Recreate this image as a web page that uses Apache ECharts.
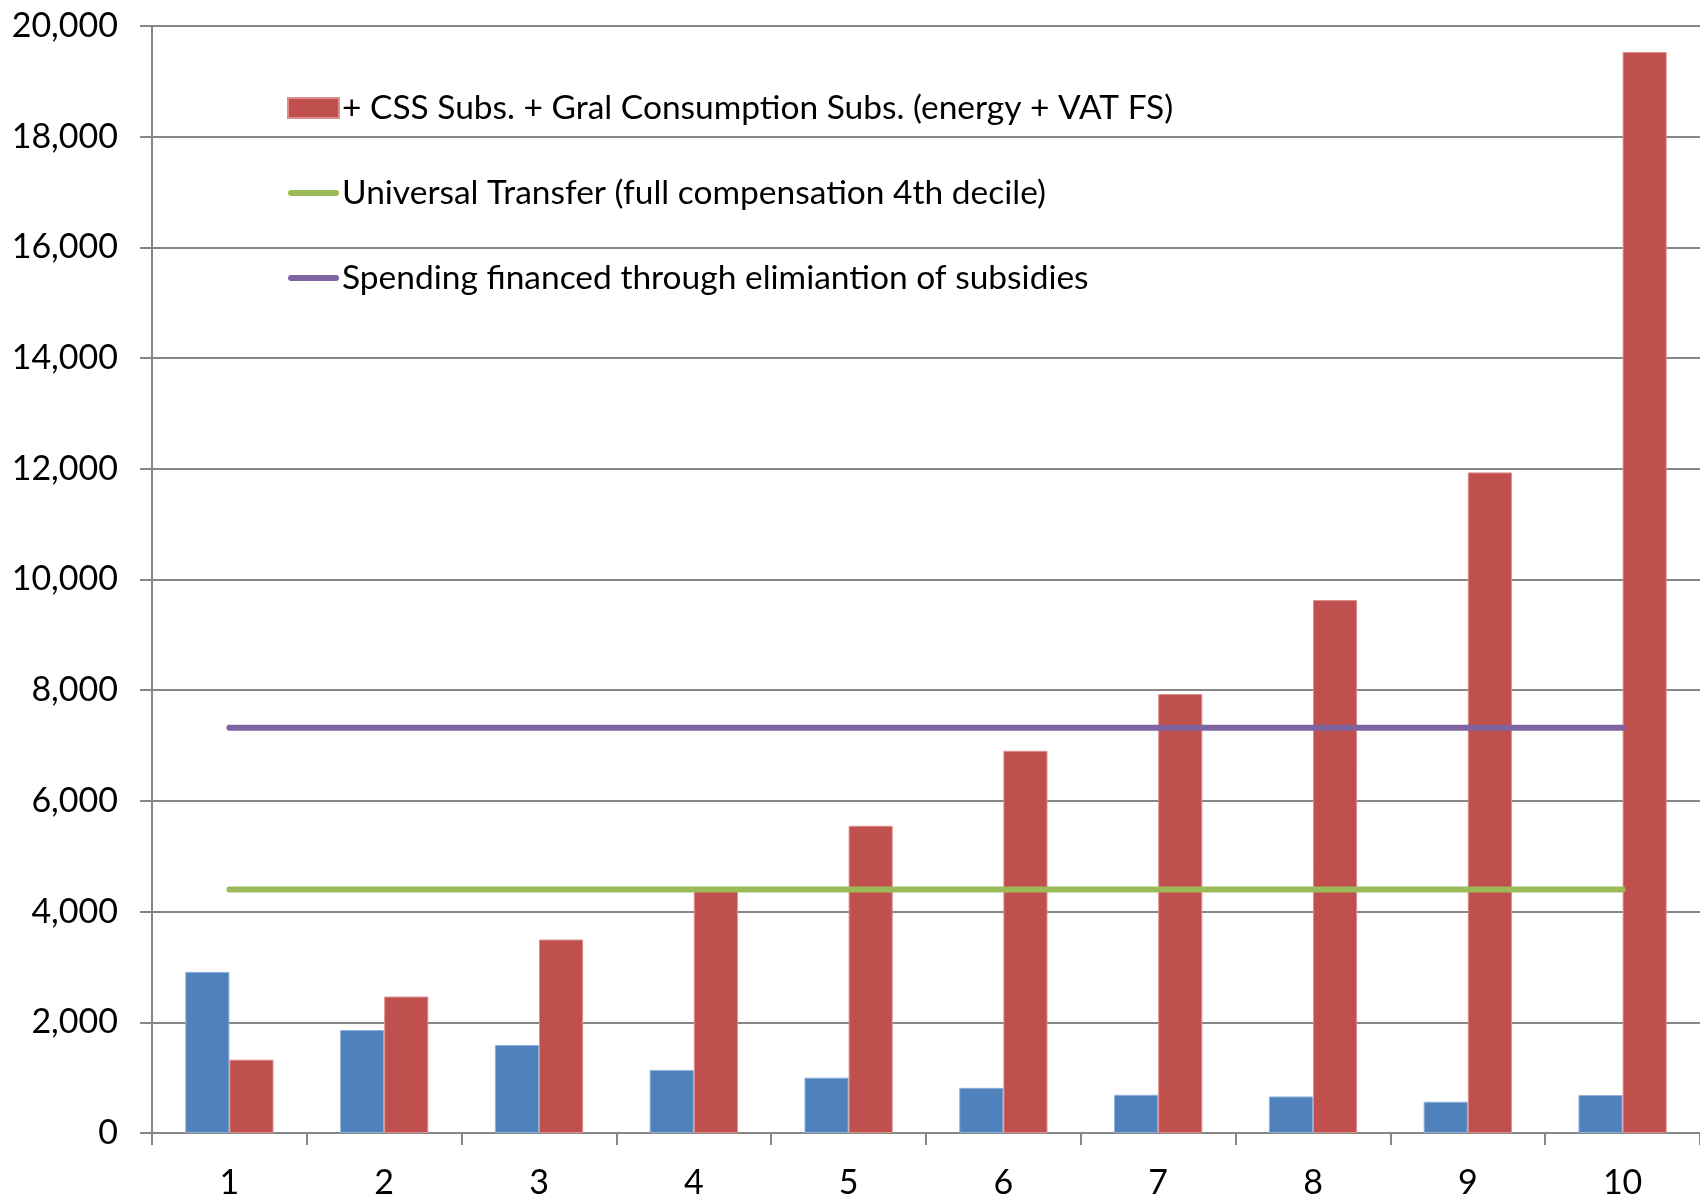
<!DOCTYPE html>
<html>
<head>
<meta charset="utf-8">
<script src="https://cdn.jsdelivr.net/npm/echarts@6/dist/echarts.min.js"></script>
<style>
  html, body { margin: 0; padding: 0; background: #ffffff; }
  #chart { width: 1700px; height: 1200px; }
</style>
</head>
<body>
<div id="chart"></div>
<script>
const categories = ['1', '2', '3', '4', '5', '6', '7', '8', '9', '10'];
const yTicks = [0, 2000, 4000, 6000, 8000, 10000, 12000, 14000, 16000, 18000, 20000];

const baseSubsidies = [2910, 1860, 1590, 1140, 1000, 816, 690, 660, 565, 685];
const cssGralSubsidies = [1325, 2465, 3495, 4390, 5550, 6905, 7930, 9630, 11935, 19530];
const universalTransfer = [4400, 4400, 4400, 4400, 4400, 4400, 4400, 4400, 4400, 4400];
const spendingFinanced = [7320, 7320, 7320, 7320, 7320, 7320, 7320, 7320, 7320, 7320];

const seriesNames = [
  'Base subsidies',
  '+ CSS Subs. + Gral Consumption Subs. (energy + VAT FS)',
  'Universal Transfer (full compensation 4th decile)',
  'Spending financed through elimiantion of subsidies'
];

const FONT = 'Lato, "Open Sans", sans-serif';
const LINE_ICON = 'path://M3,0 L48,0 A3,3 0 0 1 48,6 L3,6 A3,3 0 0 1 3,0 Z';
const chart = echarts.init(document.getElementById('chart'), null, { renderer: 'canvas' });

chart.setOption({
  backgroundColor: '#ffffff',
  animation: false,
  grid: { left: 152, right: 0, top: 26, bottom: 66 },
  legend: {
    orient: 'vertical',
    left: 282,
    top: 85,
    itemWidth: 51,
    itemHeight: 20,
    itemGap: 49,
    symbolKeepAspect: true,
    data: [
      { name: seriesNames[1], icon: 'rect' },
      { name: seriesNames[2], icon: LINE_ICON },
      { name: seriesNames[3], icon: LINE_ICON }
    ],
    textStyle: { fontFamily: FONT, fontSize: 33.5, color: '#000000', lineHeight: 36, padding: [0, 0, 0, -2] }
  },
  xAxis: {
    type: 'category',
    data: categories,
    boundaryGap: true,
    axisLine: { show: true, lineStyle: { color: '#868686', width: 2 } },
    axisTick: { show: true, length: 12, alignWithLabel: false, lineStyle: { color: '#868686', width: 2 } },
    axisLabel: { fontFamily: FONT, fontSize: 34, color: '#000000', margin: 33 },
    splitLine: { show: false }
  },
  yAxis: {
    type: 'value',
    min: yTicks[0],
    max: yTicks[yTicks.length - 1],
    interval: yTicks[1] - yTicks[0],
    axisLine: { show: true, lineStyle: { color: '#868686', width: 2 } },
    axisTick: { show: true, length: 12, lineStyle: { color: '#868686', width: 2 } },
    axisLabel: {
      fontFamily: FONT, fontSize: 34, color: '#000000', margin: 34,
      formatter: v => v.toLocaleString('en-US')
    },
    splitLine: { show: true, lineStyle: { color: '#868686', width: 2 } }
  },
  series: [
    {
      name: seriesNames[0],
      type: 'bar',
      data: baseSubsidies,
      barGap: '0%',
      barCategoryGap: '43%',
      itemStyle: { color: '#4F81BD', borderColor: '#8fb0d9', borderWidth: 1 },
      z: 2
    },
    {
      name: seriesNames[1],
      type: 'bar',
      data: cssGralSubsidies,
      barGap: '0%',
      barCategoryGap: '43%',
      itemStyle: { color: '#C0504D', borderColor: '#dc8f8d', borderWidth: 1 },
      z: 2
    },
    {
      name: seriesNames[2],
      type: 'line',
      data: universalTransfer,
      symbol: 'none',
      lineStyle: { color: '#9BBB59', width: 6, cap: 'round' },
      itemStyle: { color: '#9BBB59' },
      z: 5
    },
    {
      name: seriesNames[3],
      type: 'line',
      data: spendingFinanced,
      symbol: 'none',
      lineStyle: { color: '#8064A2', width: 6, cap: 'round' },
      itemStyle: { color: '#8064A2' },
      z: 5
    }
  ]
});
</script>
</body>
</html>
